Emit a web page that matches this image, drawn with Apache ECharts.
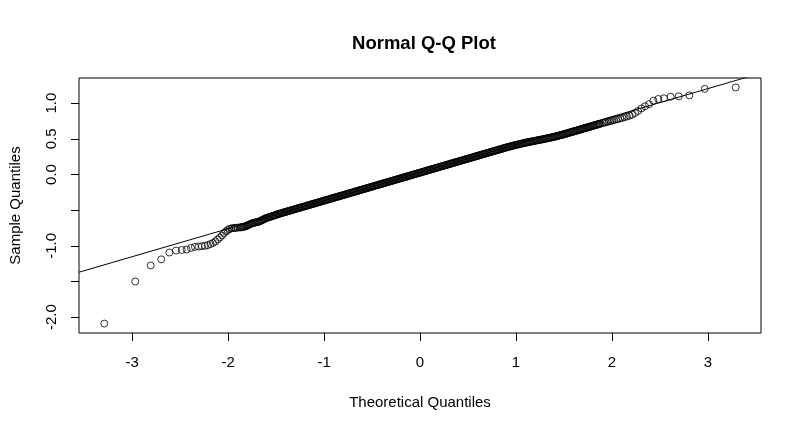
<!DOCTYPE html>
<html><head><meta charset="utf-8">
<script src="https://cdn.jsdelivr.net/npm/echarts@6/dist/echarts.min.js"></script>
<style>html,body{margin:0;padding:0;background:#fff}#c{width:800px;height:431px}</style>
</head><body><div id="c"></div>
<script>
// Theoretical / sample quantiles
const leftTailX = [-3.2905,-2.9677,-2.807,-2.6968,-2.6121,-2.5427,-2.4838,-2.4324,-2.3867,-2.3455,-2.308,-2.2734,-2.2414,-2.2115,-2.1835,-2.1571,-2.1321,-2.1084,-2.0858,-2.0642,-2.0436,-2.0238,-2.0047,-1.9864,-1.9687,-1.9516,-1.9351,-1.9191,-1.9036];
const leftTailY = [-2.09,-1.50,-1.276,-1.19,-1.094,-1.066,-1.058,-1.052,-1.03,-1.015,-1.01,-1.005,-1.0,-0.99,-0.975,-0.96,-0.94,-0.91,-0.885,-0.855,-0.825,-0.80,-0.78,-0.765,-0.757,-0.753,-0.750,-0.748,-0.745];
// dense central band (points overlap into a solid band), read every 0.01 along x from -1.88 to 1.88
const midX = [];
const midY = [
-0.743,-0.741,-0.739,-0.737,-0.735,-0.731,-0.727,-0.722,-0.716,-0.709,-0.702,-0.696,-0.690,-0.685,-0.681,-0.677,-0.674,-0.671,-0.668,-0.665,
-0.661,-0.656,-0.650,-0.643,-0.636,-0.629,-0.622,-0.616,-0.610,-0.605,-0.601,-0.597,-0.593,-0.589,-0.585,-0.580,-0.576,-0.571,-0.567,
-0.560,-0.556,-0.552,-0.548,-0.544,-0.540,-0.536,-0.532,-0.528,-0.524,-0.520,-0.516,-0.512,-0.509,-0.505,-0.501,-0.497,-0.493,-0.489,-0.485,
-0.481,-0.477,-0.473,-0.469,-0.465,-0.461,-0.458,-0.454,-0.450,-0.446,-0.442,-0.438,-0.434,-0.430,-0.426,-0.422,-0.418,-0.414,-0.410,-0.407,
-0.403,-0.399,-0.395,-0.391,-0.387,-0.383,-0.379,-0.375,-0.371,-0.367,-0.363,-0.360,-0.356,-0.352,-0.348,-0.344,-0.340,-0.336,-0.332,-0.328,
-0.324,-0.320,-0.316,-0.312,-0.309,-0.305,-0.301,-0.297,-0.293,-0.289,-0.285,-0.281,-0.277,-0.273,-0.269,-0.265,-0.261,-0.258,-0.254,-0.250,
-0.246,-0.242,-0.238,-0.234,-0.230,-0.226,-0.222,-0.218,-0.214,-0.210,-0.206,-0.202,-0.199,-0.195,-0.191,-0.187,-0.183,-0.179,-0.175,-0.171,
-0.167,-0.163,-0.159,-0.155,-0.151,-0.148,-0.144,-0.140,-0.136,-0.132,-0.128,-0.124,-0.120,-0.116,-0.112,-0.108,-0.104,-0.100,-0.097,-0.093,
-0.089,-0.085,-0.081,-0.077,-0.073,-0.069,-0.065,-0.061,-0.057,-0.053,-0.049,-0.045,-0.041,-0.038,-0.034,-0.030,-0.026,-0.022,-0.018,-0.014,
-0.010,-0.006,-0.002,0.002,0.006,0.010,0.014,0.017,0.021,0.025,0.029,0.033,0.037,0.041,0.045,0.049,0.053,0.057,0.061,0.065,
0.068,0.072,0.076,0.080,0.084,0.088,0.092,0.096,0.100,0.104,0.108,0.112,0.116,0.120,0.124,0.127,0.131,0.135,0.139,0.143,
0.147,0.151,0.155,0.159,0.163,0.167,0.171,0.175,0.178,0.182,0.186,0.190,0.194,0.198,0.202,0.206,0.210,0.214,0.218,0.222,
0.226,0.230,0.233,0.237,0.241,0.245,0.249,0.253,0.257,0.261,0.265,0.269,0.273,0.277,0.281,0.284,0.288,0.292,0.296,0.300,
0.304,0.308,0.312,0.316,0.320,0.324,0.328,0.332,0.335,0.339,0.343,0.347,0.351,0.355,0.359,0.363,0.367,0.371,0.375,0.379,
0.382,0.386,0.389,0.393,0.396,0.400,0.403,0.407,0.410,0.414,0.417,0.420,0.423,0.426,0.430,0.433,0.436,0.439,0.442,0.445,
0.448,0.451,0.453,0.456,0.459,0.462,0.464,0.467,0.470,0.472,0.475,0.478,0.480,0.483,0.486,0.488,0.491,0.493,0.496,0.499,
0.502,0.505,0.508,0.510,0.513,0.516,0.519,0.522,0.525,0.528,0.531,0.535,0.538,0.542,0.545,0.549,0.552,0.555,0.559,0.562,
0.566,0.570,0.574,0.578,0.582,0.586,0.590,0.594,0.598,0.601,0.605,0.609,0.613,0.617,0.621,0.625,0.629,0.633,0.637,0.641,
0.645,0.649,0.652,0.656,0.660,0.664,0.668,0.672,0.676,0.680,0.684,0.688,0.692,0.696,0.700,0.704,0.707,0.711];
for (let k = -188; k <= 188; k++) midX.push(k / 100); // x positions where the band was read
const rightTailX = [1.9036,1.9191,1.9351,1.9516,1.9687,1.9864,2.0047,2.0238,2.0436,2.0642,2.0858,2.1084,2.1321,2.1571,2.1835,2.2115,2.2414,2.2734,2.308,2.3455,2.3867,2.4324,2.4838,2.5427,2.6121,2.6968,2.807,2.9677,3.2905];
const rightTailY = [0.720,0.726,0.732,0.738,0.744,0.750,0.757,0.764,0.771,0.778,0.786,0.794,0.803,0.813,0.824,0.838,0.862,0.890,0.925,0.955,0.985,1.035,1.058,1.068,1.090,1.095,1.108,1.200,1.220];

// reference line (qqline)
const qqIntercept = 0.0253;
const qqSlope = 0.3926;

const xTicks = [-3,-2,-1,0,1,2,3];
const yTicks = [-2,-1.5,-1,-0.5,0,0.5,1];
const yTickLabels = [-2,-1,0,0.5,1];
const xRange = [-3.554, 3.554];
const yRange = [-2.222, 1.352];

const FONT = "'Liberation Sans', Arial, sans-serif";
const pts = [];
[[leftTailX,leftTailY],[midX,midY],[rightTailX,rightTailY]].forEach(([xs,ys]) => {
  xs.forEach((x,i) => { if (ys[i] !== undefined) pts.push([x, ys[i]]); });
});
const lineData = xRange.map(x => [x, qqIntercept + qqSlope * x]);

const chart = echarts.init(document.getElementById('c'), null, {renderer:'canvas'});
chart.setOption({
  animation: false,
  backgroundColor: '#fff',
  title: {
    text: 'Normal Q-Q Plot', left: 419, top: 29, textAlign: 'center',
    textStyle: {fontFamily: FONT, fontSize: 18.5, fontWeight: 'bold', color: '#000'}
  },
  grid: {left: 77, right: 39, top: 78, bottom: 98, show: true, borderColor: '#000', borderWidth: 1, backgroundColor: 'transparent'},
  xAxis: {
    type: 'value', min: xRange[0], max: xRange[1],
    name: 'Theoretical Quantiles', nameLocation: 'middle', nameGap: 62,
    nameTextStyle: {fontFamily: FONT, fontSize: 15, color: '#000'},
    axisLine: {show: false, onZero: false},
    splitLine: {show: false},
    axisTick: {show: true, customValues: xTicks, length: 8, lineStyle: {color: '#000', width: 1}},
    axisLabel: {customValues: xTicks, margin: 22, color: '#000', fontFamily: FONT, fontSize: 15, formatter: v => String(v)}
  },
  yAxis: {
    type: 'value', min: yRange[0], max: yRange[1],
    name: 'Sample Quantiles', nameLocation: 'middle', nameGap: 56, nameRotate: 90,
    nameTextStyle: {fontFamily: FONT, fontSize: 15, color: '#000'},
    axisLine: {show: false, onZero: false},
    splitLine: {show: false},
    axisTick: {show: true, customValues: yTicks, length: 8, lineStyle: {color: '#000', width: 1}},
    axisLabel: {customValues: yTickLabels, rotate: 90, margin: 20, color: '#000', fontFamily: FONT, fontSize: 15, formatter: v => v.toFixed(1)}
  },
  series: [
    {
      type: 'scatter', data: pts, symbol: 'circle', symbolSize: 7,
      itemStyle: {color: 'rgba(0,0,0,0)', borderColor: '#000', borderWidth: 1},
      emphasis: {disabled: true}, silent: true
    },
    {
      type: 'line', data: lineData, showSymbol: false, clip: true,
      lineStyle: {color: '#000', width: 1}, emphasis: {disabled: true}, silent: true
    }
  ]
});
</script>
</body></html>
